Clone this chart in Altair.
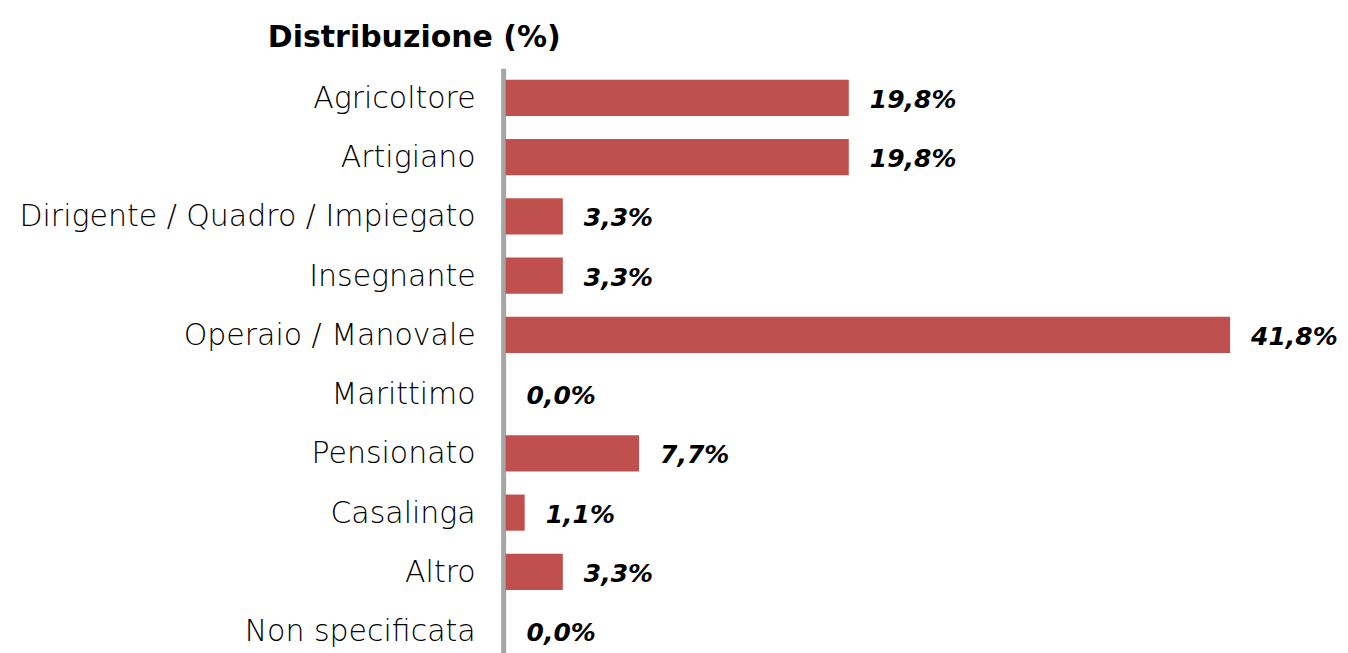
import altair as alt
import pandas as pd

categories = [
    "Agricoltore",
    "Artigiano",
    "Dirigente / Quadro / Impiegato",
    "Insegnante",
    "Operaio / Manovale",
    "Marittimo",
    "Pensionato",
    "Casalinga",
    "Altro",
    "Non specificata",
]
values = [19.8, 19.8, 3.3, 3.3, 41.8, 0.0, 7.7, 1.1, 3.3, 0.0]

df = pd.DataFrame({"categoria": categories, "valore": values})

y_enc = alt.Y(
    "categoria:N",
    sort=categories,
    title=None,
    scale=alt.Scale(paddingInner=0.39, paddingOuter=0.195),
    axis=alt.Axis(
        ticks=False,
        tickSize=0,
        labelPadding=28,
        labelFont="DejaVu Sans",
        labelFontSize=30,
        labelFontWeight=200,
        labelColor="#000000",
        labelOffset=1,
        domainColor="#A6A6A6",
        domainWidth=5,
        offset=2.5,
        labelLimit=600,
        grid=False,
    ),
)

x_enc = alt.X(
    "valore:Q",
    title=None,
    scale=alt.Scale(zero=True, nice=False),
    axis=None,
)

bars = alt.Chart(df).mark_bar(color="#C0504D").encode(y=y_enc, x=x_enc)

labels = (
    alt.Chart(df)
    .transform_calculate(
        etichetta="replace(format(datum.valore, '.1f'), '.', ',') + '%'"
    )
    .mark_text(
        align="left",
        baseline="middle",
        dx=21,
        dy=2,
        font="DejaVu Sans",
        fontSize=25,
        fontWeight="bold",
        fontStyle="italic",
        color="#000000",
    )
    .encode(y=y_enc, x=x_enc, text="etichetta:N")
)

chart = (
    alt.layer(bars, labels)
    .properties(
        width=725,
        height=593,
        autosize=alt.AutoSizeParams(type="none"),
        padding={"left": 498, "top": 60, "right": 110, "bottom": 10},
        title=alt.TitleParams(
            "Distribuzione (%)",
            anchor="start",
            frame="group",
            dx=-238,
            offset=15,
            font="DejaVu Sans",
            fontSize=30,
            fontWeight="bold",
            color="#000000",
        ),
    )
    .configure_view(stroke=None)
)

chart.save("out.html", embed_options={"renderer": "svg", "actions": False})
